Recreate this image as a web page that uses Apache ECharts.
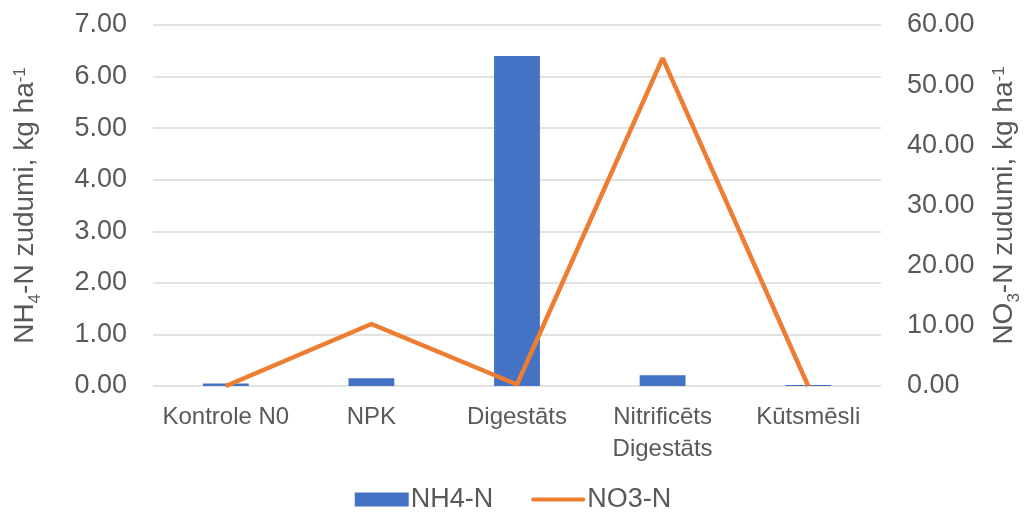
<!DOCTYPE html>
<html>
<head>
<meta charset="utf-8">
<script src="https://cdn.jsdelivr.net/npm/echarts@6/dist/echarts.min.js"></script>
<style>html,body{margin:0;padding:0;background:#fff}#c{width:1026px;height:513px}</style>
</head>
<body>
<div id="c"></div>
<script>
const categories = ['Kontrole N0', 'NPK', 'Digestāts', 'Nitrificēts\nDigestāts', 'Kūtsmēsli'];
const nh4Values = [0.05, 0.15, 6.40, 0.21, 0.02];
const no3Values = [0.0, 10.3, 0.25, 54.5, 0.0];
const seriesNames = ['NH4-N', 'NO3-N'];

const font = '"Liberation Sans", Arial, sans-serif';
const txt = '#595959';
const chart = echarts.init(document.getElementById('c'));
const titleRich = {
  a: {fontSize: 28, fontFamily: font, color: txt, lineHeight: 34, verticalAlign: 'middle'},
  sub: {fontSize: 17, fontFamily: font, color: txt, verticalAlign: 'bottom', lineHeight: 34, padding: [0,0,-2,0]},
  sup: {fontSize: 17, fontFamily: font, color: txt, verticalAlign: 'top', lineHeight: 34, padding: [4,0,0,0]}
};
chart.setOption({
  animation: false,
  textStyle: {fontFamily: font},
  grid: {left: 153, right: 145, top: 25, bottom: 127, containLabel: false, outerBoundsMode: 'none'},
  legend: {
    top: 481, left: 'center',
    itemWidth: 54, itemHeight: 14, itemGap: 38,
    textStyle: {fontSize: 27, color: txt, fontFamily: font, padding: [0,0,0,-3]},
    data: [
      {name: seriesNames[0], icon: 'rect'},
      {name: seriesNames[1], icon: 'path://M0,0 L0,0 M1,5 L53,5 A2,2 0 0 1 53,9 L1,9 A2,2 0 0 1 1,5 Z M54,14 L54,14',
       itemStyle: {color: '#ED7D31'}}
    ]
  },
  xAxis: {
    type: 'category', data: categories,
    axisLine: {show: false}, axisTick: {show: false},
    axisLabel: {fontSize: 24, color: txt, margin: 15, lineHeight: 32, interval: 0, fontFamily: font}
  },
  yAxis: [{
    type: 'value', min: 0, max: 7, interval: 1,
    axisLabel: {fontSize: 27, color: txt, margin: 26, formatter: v => v.toFixed(2), fontFamily: font},
    splitLine: {lineStyle: {color: '#d9d9d9', width: 1.5}},
    axisLine: {show: false}, axisTick: {show: false},
    name: '{a|NH}{sub|4}{a|-N zudumi, kg ha}{sup|-1}',
    nameLocation: 'middle', nameRotate: 90, nameGap: 111,
    nameTextStyle: {rich: titleRich}
  }, {
    type: 'value', min: 0, max: 60, interval: 10,
    axisLabel: {fontSize: 27, color: txt, margin: 26, formatter: v => v.toFixed(2), fontFamily: font},
    splitLine: {show: false},
    axisLine: {show: false}, axisTick: {show: false},
    name: '{a|NO}{sub|3}{a|-N zudumi, kg ha}{sup|-1}',
    nameLocation: 'middle', nameRotate: 90, nameGap: 106,
    nameTextStyle: {rich: titleRich}
  }],
  series: [{
    name: seriesNames[0], type: 'bar', data: nh4Values,
    barWidth: '31.5%', itemStyle: {color: '#4472C4'}
  }, {
    name: seriesNames[1], type: 'line', yAxisIndex: 1, data: no3Values,
    showSymbol: false, symbol: 'none',
    lineStyle: {color: '#ED7D31', width: 4.5}, itemStyle: {color: '#ED7D31'}
  }]
});
</script>
</body>
</html>
